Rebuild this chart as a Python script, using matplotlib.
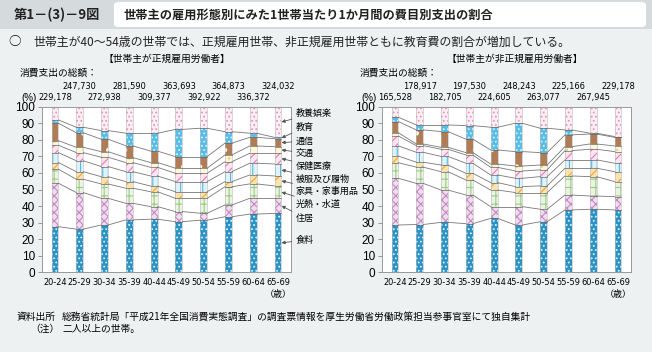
import matplotlib
matplotlib.use("Agg")
import matplotlib.pyplot as plt
from matplotlib import font_manager
from matplotlib.patches import FancyBboxPatch, Rectangle
import numpy as np

# --- data (shares in %) ---
ages = ["20-24", "25-29", "30-34", "35-39", "40-44", "45-49", "50-54", "55-59", "60-64", "65-69"]
items = ["食料", "住居", "光熱・水道", "家具・家事用品", "被服及び履物",
         "保健医療", "交通", "通信", "教育", "教養娯楽"]

# regular employees
reg_total = ["229,178", "247,730", "272,938", "281,590", "309,377",
             "363,693", "392,922", "364,873", "336,372", "324,032"]
reg_food = [27.6, 26.1, 28.6, 31.7, 32.1, 30.6, 31.5, 33.6, 35.2, 35.6]
reg_house = [26.2, 22.1, 16.1, 10.0, 7.6, 6.1, 4.2, 7.1, 9.5, 9.1]
reg_util = [8.5, 8.0, 8.7, 9.1, 9.0, 8.0, 9.0, 11.0, 8.7, 7.5]
reg_furn = [4.0, 4.6, 4.4, 4.0, 3.4, 4.0, 4.0, 3.1, 5.4, 6.0]
reg_cloth = [6.0, 6.6, 6.1, 6.0, 6.1, 6.1, 6.1, 6.0, 7.1, 7.2]
reg_med = [4.4, 4.9, 5.6, 5.5, 5.2, 5.0, 5.0, 6.0, 6.0, 6.5]
reg_trans = [2.8, 3.2, 3.4, 3.0, 2.9, 3.1, 3.1, 4.1, 4.4, 4.0]
reg_comm = [10.5, 8.8, 7.5, 7.1, 6.9, 7.0, 7.0, 7.1, 5.2, 4.8]
reg_edu = [2.0, 3.3, 5.2, 7.6, 10.8, 16.4, 17.1, 6.9, 2.5, 0.8]
reg_rec = [8.0, 12.4, 14.4, 16.0, 16.0, 13.7, 13.0, 15.1, 16.0, 18.5]

# non-regular employees
non_total = ["165,528", "178,917", "182,705", "197,530", "224,605",
             "248,243", "263,077", "225,166", "267,945", "229,178"]
non_food = [28.6, 28.9, 30.2, 29.4, 32.6, 28.6, 30.6, 37.7, 38.1, 37.7]
non_house = [28.2, 24.8, 19.5, 17.3, 7.1, 11.1, 7.5, 9.0, 8.0, 8.0]
non_util = [9.4, 9.8, 11.1, 9.1, 10.0, 8.5, 10.1, 11.5, 11.7, 9.1]
non_furn = [4.0, 3.0, 4.0, 4.0, 4.5, 3.6, 4.0, 4.7, 5.1, 6.0]
non_cloth = [6.1, 6.0, 5.2, 6.1, 4.6, 5.0, 5.6, 5.0, 5.0, 5.1]
non_med = [6.0, 4.0, 4.3, 5.0, 4.6, 4.4, 4.1, 5.6, 6.4, 7.0]
non_trans = [2.0, 1.0, 1.2, 1.4, 2.0, 3.0, 2.9, 2.4, 3.2, 3.4]
non_comm = [6.7, 8.5, 9.5, 8.1, 8.5, 8.7, 7.5, 7.1, 6.0, 5.2]
non_edu = [2.6, 3.0, 4.0, 8.2, 13.7, 17.1, 14.7, 3.0, 0.5, 0.5]
non_rec = [6.4, 11.0, 11.0, 11.4, 12.4, 10.0, 13.0, 14.0, 16.0, 18.0]

reg = [reg_food, reg_house, reg_util, reg_furn, reg_cloth, reg_med, reg_trans, reg_comm, reg_edu, reg_rec]
non = [non_food, non_house, non_util, non_furn, non_cloth, non_med, non_trans, non_comm, non_edu, non_rec]

# face colour, hatch colour, hatch
styles = [
    ("#2a92c4", "#d8f0fa", "...."),
    ("#f1dcef", "#c08ac0", "xxxx"),
    ("#eaf4e2", "#9fca86", "++"),
    ("#fbe3b0", "#eea53a", "///"),
    ("#dff2fa", "#5ab8e0", "|||"),
    ("#fde6f1", "#e77ab0", "////"),
    ("#fcf8d6", "#e0d890", ".."),
    ("#b07c56", "#ffffff", "."),
    ("#58bde6", "#d4f0fb", "...."),
    ("#fdeef4", "#e396ba", "...."),
]

jp = "Noto Sans CJK JP"
# look for a condensed latin face for the crowded numbers
num_font = dict(family=["Liberation Sans"])
num_small = 6.2
for f in font_manager.fontManager.ttflist:
    if "Narrow" in f.name or "Condensed" in f.name:
        num_font = dict(family=[f.name])
        num_small = 6.6
        break
    if f.stretch in ("condensed", "semi-condensed") and f.style == "normal":
        num_font = dict(family=[f.name], fontstretch=f.stretch)
        num_small = 6.6
        break

plt.rcParams["font.family"] = ["Liberation Sans", jp]
plt.rcParams["hatch.linewidth"] = 0.8

W, H = 652, 352
fig = plt.figure(figsize=(W / 100, H / 100), dpi=100)
fig.patch.set_facecolor("#edf1f2")


def px(x, y):
    return x / W, 1 - y / H


# header
fig.patches.append(Rectangle((0, 1 - 29 / H), 1, 29 / H, transform=fig.transFigure,
                             facecolor="#d5dbdd", edgecolor="none"))
fig.patches.append(FancyBboxPatch((114 / W, 1 - 27 / H), 532 / W, 25 / H,
                                  boxstyle="round,pad=0,rounding_size=0.008",
                                  transform=fig.transFigure, facecolor="white", edgecolor="none"))
fig.text(*px(14, 15), "第1－(3)－9図", fontsize=9.5, fontweight="bold",
         family=[jp], va="center", color="#222222")
fig.text(*px(123, 15), "世帯主の雇用形態別にみた1世帯当たり1か月間の費目別支出の割合",
         fontsize=8.8, fontweight="bold", family=[jp], va="center", color="#222222")
fig.text(*px(8, 42), "○", fontsize=9, family=[jp], va="center")
fig.text(*px(33, 42), "世帯主が40～54歳の世帯では、正規雇用世帯、非正規雇用世帯ともに教育費の割合が増加している。",
         fontsize=8.6, family=[jp], va="center", color="#222222")

w = 0.28


def draw(left_px, data, totals, subtitle, sub_x, labels):
    ax = fig.add_axes([left_px / W, (H - 272.4) / H, 249 / W, 165.7 / H])
    ax.set_facecolor("white")
    x = np.arange(len(ages))
    bottom = np.zeros(len(ages))
    tops = []
    for vals, (fc, hc, hatch) in zip(data, styles):
        vals = np.array(vals)
        ax.bar(x, vals, w, bottom=bottom, color=fc, edgecolor=hc, hatch=hatch, linewidth=0)
        bottom = bottom + vals
        tops.append(bottom.copy())
    # bar outlines
    ax.bar(x, bottom, w, fill=False, edgecolor="#b8b8b8", linewidth=0.4)
    # thin boundary lines and connectors
    for t in tops[:-1]:
        for i in range(len(ages)):
            ax.plot([i - w / 2, i + w / 2], [t[i], t[i]], color="#666666", lw=0.5)
            if i < len(ages) - 1:
                ax.plot([i + w / 2, i + 1 - w / 2], [t[i], t[i + 1]], color="#777777", lw=0.6)
    ax.set_xlim(-0.524, 9.524)
    ax.set_ylim(0, 100)
    ax.set_yticks(range(0, 101, 10))
    ax.set_xticks(x)
    ax.set_xticklabels(ages, fontsize=num_small, **num_font)
    ax.tick_params(axis="x", length=0, pad=4)
    ax.tick_params(axis="y", length=3, width=0.6, color="#888888", labelsize=8.5, pad=2)
    for s in ax.spines.values():
        s.set_color("#999999")
        s.set_linewidth(0.7)
    ax.text(9, -13.5, "（歳）", family=[jp], fontsize=6.5, ha="center", va="center")
    # totals
    for i, t in enumerate(totals):
        yy = 98 if i % 2 == 0 else 87
        fig.text(*px(left_px + 13 + i * 24.8, yy), t, fontsize=num_small,
                 ha="center", va="center", **num_font)
    fig.text(*px(left_px - 21, 98), "(%)", family=["Liberation Sans"], fontsize=7, va="center")
    fig.text(*px(left_px - 22, 73), "消費支出の総額：", family=[jp], fontsize=7, va="center")
    fig.text(*px(sub_x, 59), subtitle, family=[jp], fontsize=7, ha="center", va="center")
    if labels:
        ys = [240, 218, 204, 191, 179, 166, 153, 141, 127, 113]
        prev = np.zeros(len(ages))
        for k, (name, yy) in enumerate(zip(items, ys)):
            mid = (prev[-1] + tops[k][-1]) / 2
            prev = tops[k]
            ax.annotate(name, xy=(9 + w / 2, mid), xycoords="data",
                        xytext=px(296, yy), textcoords="figure fraction",
                        family=[jp], fontsize=6.5, va="center", ha="left", annotation_clip=False,
                        arrowprops=dict(arrowstyle="-|>", color="#555555", lw=0.6,
                                        mutation_scale=5, shrinkA=1, shrinkB=0))
    return ax


draw(42, reg, reg_total, "【世帯主が正規雇用労働者】", 167, True)
draw(382, non, non_total, "【世帯主が非正規雇用労働者】", 515, False)

# footer
fig.text(*px(17, 317), "資料出所", family=[jp], fontsize=7, va="center")
fig.text(*px(62, 317), "総務省統計局「平成21年全国消費実態調査」の調査票情報を厚生労働省労働政策担当参事官室にて独自集計",
         family=[jp], fontsize=7, va="center")
fig.text(*px(30, 329), "（注）", family=[jp], fontsize=7, va="center")
fig.text(*px(62, 329), "二人以上の世帯。", family=[jp], fontsize=7, va="center")

fig.savefig("out.png", dpi=100, facecolor=fig.get_facecolor())
